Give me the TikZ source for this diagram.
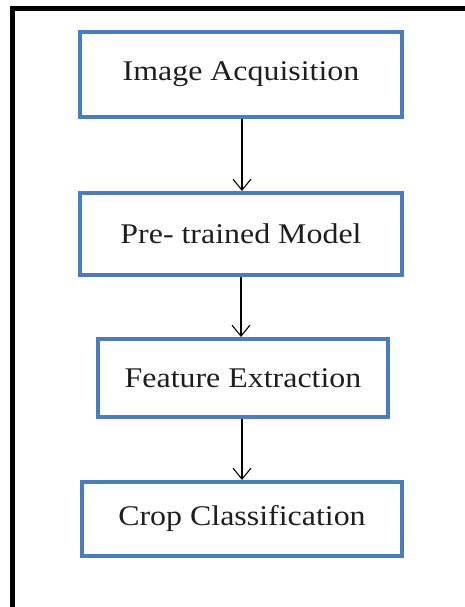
\documentclass[tikz,border=0pt]{standalone}
\usepackage{fontspec}
\setmainfont{Liberation Serif}[FakeStretch=1.12]
\usetikzlibrary{arrows.meta}
\definecolor{boxblue}{RGB}{74,126,187}
\definecolor{txt}{RGB}{30,30,30}
\tikzset{
  stage/.style={draw=boxblue, line width=4pt, fill=white, inner sep=0pt, text=txt,
    font=\fontsize{28.5}{32}\selectfont},
  flow/.style={draw=black, line width=1.1pt, -{Straight Barb[length=11pt,width=18pt,line width=1.1pt]}},
  frame/.style={draw=black, line width=4.5pt}
}
\begin{document}
\begin{tikzpicture}[x=1pt,y=1pt]
\useasboundingbox (0,0) rectangle (465,607);
% outer frame (left and top only visible)
\draw[frame] (12.5,0) -- (12.5,598.5) -- (465,598.5);
\node[stage, minimum width=322pt, minimum height=85pt] (acq) at (241,532.5) {Image Acquisition};
\node[stage, minimum width=322pt, minimum height=82pt] (pre) at (241,373) {Pre- trained Model};
\node[stage, minimum width=290pt, minimum height=78pt] (feat) at (243,229) {Feature Extraction};
\node[stage, minimum width=320pt, minimum height=74pt] (crop) at (242,088) {Crop Classification};
\coordinate (a1) at (acq.south -| 242,0);
\coordinate (a2) at (pre.north -| 242,0);
\coordinate (b1) at (pre.south -| 241,0);
\coordinate (b2) at (feat.north -| 241,0);
\coordinate (c1) at (feat.south -| 242,0);
\coordinate (c2) at (crop.north -| 242,0);
\draw[flow] (a1) -- (a2);
\draw[flow] (b1) -- (b2);
\draw[flow] (c1) -- (c2);
\end{tikzpicture}
\end{document}
